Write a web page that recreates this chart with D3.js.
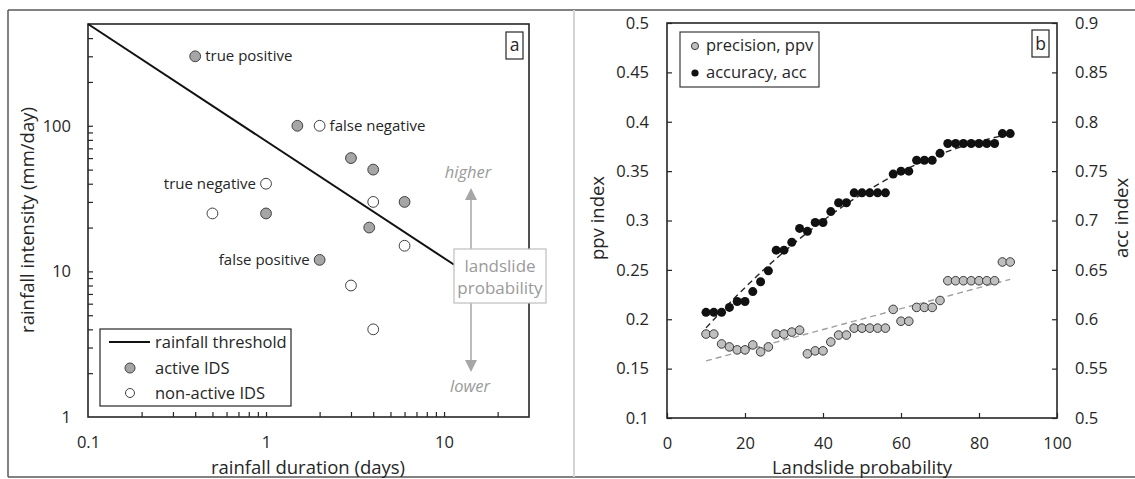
<!DOCTYPE html>
<html>
<head>
<meta charset="utf-8">
<script src="https://cdn.jsdelivr.net/npm/d3@7"></script>
<style>
  html, body { margin: 0; padding: 0; background: #fff; }
  svg { display: block; font-family: "Open Sans", "Noto Sans", sans-serif; }
</style>
</head>
<body>
<svg id="chart" width="1135" height="479"></svg>
<script>
// ---------- Panel a data ----------
const activeDuration   = [0.4, 1.5, 3, 4, 6, 1, 3.8, 2];
const activeIntensity  = [300, 100, 60, 50, 30, 25, 20, 12];
const inactiveDuration  = [2, 1, 0.5, 4, 6, 3, 4];
const inactiveIntensity = [100, 40, 25, 30, 15, 8, 4];
const thresholdDuration  = [0.1, 11.4];
const thresholdIntensity = [500, 11.1];
const annotText      = ["true positive", "false negative", "true negative", "false positive"];
const annotDuration  = [0.4, 2, 1, 2];
const annotIntensity = [300, 100, 40, 12];
const annotSide      = ["right", "right", "left", "left"];
const durTickLabels = [0.1, 1, 10];
const durMinorTicks = [0.2,0.3,0.4,0.5,0.6,0.7,0.8,0.9,1,2,3,4,5,6,7,8,9,10,20];
const intTickLabels = [1, 10, 100];
const intMinorTicks = [2,3,4,5,6,7,8,9,10,20,30,40,50,60,70,80,90,100,200,300,400];
const legendA = ["rainfall threshold", "active IDS", "non-active IDS"];

// ---------- Panel b data ----------
const probability = [10,12,14,16,18,20,22,24,26,28,30,32,34,36,38,40,42,44,46,48,
                     50,52,54,56,58,60,62,64,66,68,70,72,74,76,78,80,82,84,86,88];
const ppv = [0.185,0.185,0.175,0.172,0.169,0.169,0.174,0.167,0.172,0.185,
             0.185,0.187,0.189,0.165,0.168,0.168,0.177,0.184,0.184,0.191,
             0.191,0.191,0.191,0.191,0.210,0.198,0.198,0.212,0.212,0.212,
             0.219,0.239,0.239,0.239,0.239,0.239,0.239,0.239,0.258,0.258];
const acc = [0.607,0.607,0.607,0.612,0.618,0.618,0.628,0.638,0.649,0.670,
             0.670,0.678,0.692,0.689,0.698,0.698,0.709,0.718,0.718,0.728,
             0.728,0.728,0.728,0.728,0.747,0.750,0.750,0.761,0.761,0.761,
             0.768,0.778,0.778,0.778,0.778,0.778,0.778,0.778,0.788,0.788];
const probTicks = [0, 20, 40, 60, 80, 100];
const ppvTicks = [0.1,0.15,0.2,0.25,0.3,0.35,0.4,0.45,0.5];
const accTicks = [0.5,0.55,0.6,0.65,0.7,0.75,0.8,0.85,0.9];
const legendB = ["precision, ppv", "accuracy, acc"];

const svg = d3.select("#chart");
const TXT = "#262626";
const TICK_FS = 16.5, TITLE_FS = 18.5, LEG_FS = 16.5;

// ---------- Outer frame ----------
svg.append("rect").attr("x",0).attr("y",0).attr("width",1135).attr("height",479).attr("fill","#fff");
svg.append("line").attr("x1",8).attr("x2",1135).attr("y1",10).attr("y2",10).attr("stroke","#595959").attr("stroke-width",1.5);
svg.append("line").attr("x1",8).attr("x2",1135).attr("y1",477).attr("y2",477).attr("stroke","#595959").attr("stroke-width",1.5);
svg.append("line").attr("x1",8).attr("x2",8).attr("y1",10).attr("y2",477).attr("stroke","#595959").attr("stroke-width",1.5);
svg.append("line").attr("x1",574).attr("x2",574).attr("y1",10).attr("y2",477).attr("stroke","#d4d4d4").attr("stroke-width",2);

// ================= Panel a =================
const xA = d3.scaleLog().domain([0.1, 30]).range([88, 529]);
const yA = d3.scaleLog().domain([1, 500]).range([417, 24]);
const gA = svg.append("g");

function styleAxis(g, size) {
  g.select(".domain").remove();
  g.selectAll(".tick line").attr("stroke", "#262626").attr("stroke-width", 1.2);
  g.selectAll(".tick text").attr("fill", TXT).attr("font-size", size)
    .attr("font-family", '"Open Sans", "Noto Sans", sans-serif');
}

// minor/major ticks (inward)
gA.append("g").attr("transform","translate(0,417)")
  .call(d3.axisBottom(xA).tickValues(durMinorTicks).tickSize(-5).tickFormat(""))
  .call(g => styleAxis(g, TICK_FS));
gA.append("g").attr("transform","translate(88,0)")
  .call(d3.axisLeft(yA).tickValues(intMinorTicks).tickSize(-5).tickFormat(""))
  .call(g => styleAxis(g, TICK_FS));
// labels
gA.append("g").attr("transform","translate(0,417)")
  .call(d3.axisBottom(xA).tickValues(durTickLabels).tickSize(0).tickPadding(19).tickFormat(d3.format("")))
  .call(g => styleAxis(g, TICK_FS));
gA.append("g").attr("transform","translate(88,0)")
  .call(d3.axisLeft(yA).tickValues(intTickLabels).tickSize(0).tickPadding(17).tickFormat(d3.format("")))
  .call(g => styleAxis(g, TICK_FS));

// plot border
gA.append("rect").attr("x",88).attr("y",24).attr("width",529-88).attr("height",417-24)
  .attr("fill","none").attr("stroke","#262626").attr("stroke-width",1.6);

// threshold line
gA.append("path")
  .datum(thresholdDuration.map((d,i)=>[d, thresholdIntensity[i]]))
  .attr("d", d3.line().x(d=>xA(d[0])).y(d=>yA(d[1])))
  .attr("fill","none").attr("stroke","#111").attr("stroke-width",2);

// points
gA.selectAll("circle.act").data(activeDuration.map((d,i)=>[d, activeIntensity[i]])).join("circle")
  .attr("cx",d=>xA(d[0])).attr("cy",d=>yA(d[1])).attr("r",5.4)
  .attr("fill","#a6a6a6").attr("stroke","#404040").attr("stroke-width",1);
gA.selectAll("circle.inact").data(inactiveDuration.map((d,i)=>[d, inactiveIntensity[i]])).join("circle")
  .attr("cx",d=>xA(d[0])).attr("cy",d=>yA(d[1])).attr("r",5.4)
  .attr("fill","#fff").attr("stroke","#404040").attr("stroke-width",1);

// annotations
annotText.forEach((t,i)=>{
  const right = annotSide[i] === "right";
  gA.append("text").text(t)
    .attr("x", xA(annotDuration[i]) + (right ? 10 : -10))
    .attr("y", yA(annotIntensity[i]) + 5)
    .attr("text-anchor", right ? "start" : "end")
    .attr("font-size", 15).attr("fill", TXT);
});

// "landslide probability" box with arrows
const GRAY = "#a6a6a6";
gA.append("line").attr("x1",471).attr("x2",471).attr("y1",249).attr("y2",199).attr("stroke",GRAY).attr("stroke-width",1.5);
gA.append("path").attr("d","M471,188 L465,200 L477,200 Z").attr("fill",GRAY);
gA.append("line").attr("x1",471).attr("x2",471).attr("y1",303).attr("y2",361).attr("stroke",GRAY).attr("stroke-width",1.5);
gA.append("path").attr("d","M471,372 L465,360 L477,360 Z").attr("fill",GRAY);
gA.append("rect").attr("x",454).attr("y",249).attr("width",92).attr("height",54)
  .attr("fill","#fff").attr("stroke","#bfbfbf").attr("stroke-width",1.2);
gA.append("text").text("landslide").attr("x",500).attr("y",272).attr("text-anchor","middle").attr("font-size",17).attr("fill","#9a9a9a");
gA.append("text").text("probability").attr("x",500).attr("y",294).attr("text-anchor","middle").attr("font-size",17).attr("fill","#9a9a9a");
gA.append("text").text("higher").attr("x",468).attr("y",178).attr("text-anchor","middle").attr("font-size",16.5).attr("font-style","italic").attr("fill","#9a9a9a");
gA.append("text").text("lower").attr("x",470).attr("y",392).attr("text-anchor","middle").attr("font-size",16.5).attr("font-style","italic").attr("fill","#9a9a9a");

// "a" label box
gA.append("rect").attr("x",506).attr("y",32).attr("width",17).attr("height",27).attr("fill","#fff").attr("stroke","#262626").attr("stroke-width",1.2);
gA.append("text").text("a").attr("x",514.5).attr("y",51).attr("text-anchor","middle").attr("font-size",17.5).attr("fill",TXT);

// legend
const lgA = gA.append("g");
lgA.append("rect").attr("x",100).attr("y",329).attr("width",191).attr("height",77)
  .attr("fill","#fff").attr("stroke","#262626").attr("stroke-width",1.2);
lgA.append("line").attr("x1",109).attr("x2",150).attr("y1",342).attr("y2",342).attr("stroke","#111").attr("stroke-width",2);
lgA.append("circle").attr("cx",130).attr("cy",368).attr("r",5).attr("fill","#a6a6a6").attr("stroke","#404040");
lgA.append("circle").attr("cx",130).attr("cy",393).attr("r",4.5).attr("fill","#fff").attr("stroke","#404040");
legendA.forEach((t,i)=>{
  lgA.append("text").text(t).attr("x",155).attr("y",348 + i*25.5).attr("font-size",LEG_FS).attr("fill",TXT);
});

// axis titles
gA.append("text").text("rainfall duration (days)").attr("x",308).attr("y",474)
  .attr("text-anchor","middle").attr("font-size",TITLE_FS).attr("fill",TXT);
gA.append("text").text("rainfall intensity (mm/day)")
  .attr("transform","translate(34,220) rotate(-90)")
  .attr("text-anchor","middle").attr("font-size",TITLE_FS).attr("fill",TXT);

// ================= Panel b =================
const xB = d3.scaleLinear().domain([0, 100]).range([667, 1057]);
const yP = d3.scaleLinear().domain([0.1, 0.5]).range([418, 23]);
const yC = d3.scaleLinear().domain([0.5, 0.9]).range([418, 23]);
const gB = svg.append("g");

gB.append("g").attr("transform","translate(0,418)")
  .call(d3.axisBottom(xB).tickValues(probTicks).tickSizeInner(-5).tickSizeOuter(0).tickPadding(19).tickFormat(d3.format("")))
  .call(g => styleAxis(g, TICK_FS));
gB.append("g").attr("transform","translate(667,0)")
  .call(d3.axisLeft(yP).tickValues(ppvTicks).tickSizeInner(-5).tickSizeOuter(0).tickPadding(18).tickFormat(d3.format("")))
  .call(g => styleAxis(g, TICK_FS));
gB.append("g").attr("transform","translate(1057,0)")
  .call(d3.axisRight(yC).tickValues(accTicks).tickSizeInner(-5).tickSizeOuter(0).tickPadding(18).tickFormat(d3.format("")))
  .call(g => styleAxis(g, TICK_FS));

gB.append("rect").attr("x",667).attr("y",23).attr("width",1057-667).attr("height",418-23)
  .attr("fill","none").attr("stroke","#262626").attr("stroke-width",1.6);

// trend lines (least-squares fits of the series, as the spreadsheet trendlines)
function polyFit(xs, ys, order) {
  const n = order + 1;
  const A = Array.from({length:n}, ()=>new Array(n+1).fill(0));
  for (let r=0; r<n; r++) {
    for (let c=0; c<n; c++) A[r][c] = d3.sum(xs, x=>Math.pow(x, r+c));
    A[r][n] = d3.sum(xs, (x,i)=>ys[i]*Math.pow(x, r));
  }
  for (let i=0;i<n;i++){
    let p=i; for(let k=i+1;k<n;k++) if(Math.abs(A[k][i])>Math.abs(A[p][i])) p=k;
    [A[i],A[p]]=[A[p],A[i]];
    for(let k=i+1;k<n;k++){ const f=A[k][i]/A[i][i]; for(let j=i;j<=n;j++) A[k][j]-=f*A[i][j]; }
  }
  const c=new Array(n).fill(0);
  for(let i=n-1;i>=0;i--){ let s=A[i][n]; for(let j=i+1;j<n;j++) s-=A[i][j]*c[j]; c[i]=s/A[i][i]; }
  return x => c.reduce((s,ci,k)=>s+ci*Math.pow(x,k),0);
}
const ppvFit = polyFit(probability, ppv, 1);
const accFit = polyFit(probability, acc, 2);
const xFitRange = d3.range(10, 88.01, 1);
gB.append("path").datum(xFitRange)
  .attr("d", d3.line().x(d=>xB(d)).y(d=>yP(ppvFit(d))))
  .attr("fill","none").attr("stroke","#a0a0a0").attr("stroke-width",1.4).attr("stroke-dasharray","6,4");
gB.append("path").datum(xFitRange)
  .attr("d", d3.line().x(d=>xB(d)).y(d=>yC(accFit(d))))
  .attr("fill","none").attr("stroke","#262626").attr("stroke-width",1.4).attr("stroke-dasharray","6,4");

// points
gB.selectAll("circle.ppv").data(probability.map((p,i)=>[p, ppv[i]])).join("circle")
  .attr("cx",d=>xB(d[0])).attr("cy",d=>yP(d[1])).attr("r",4.3)
  .attr("fill","#bfbfbf").attr("stroke","#3a3a3a").attr("stroke-width",1);
svg.append("g").selectAll("circle").data(probability.map((p,i)=>[p, acc[i]])).join("circle")
  .attr("cx",d=>xB(d[0])).attr("cy",d=>yC(d[1])).attr("r",4.5)
  .attr("fill","#111");

// "b" label box
gB.append("rect").attr("x",1032).attr("y",30).attr("width",17).attr("height",27).attr("fill","#fff").attr("stroke","#262626").attr("stroke-width",1.2);
gB.append("text").text("b").attr("x",1040.5).attr("y",50).attr("text-anchor","middle").attr("font-size",17.5).attr("fill",TXT);

// legend
const lgB = gB.append("g");
lgB.append("rect").attr("x",680).attr("y",32).attr("width",139).attr("height",55)
  .attr("fill","#fff").attr("stroke","#3a3a3a").attr("stroke-width",1.2);
lgB.append("circle").attr("cx",695).attr("cy",46).attr("r",3.6).attr("fill","#bfbfbf").attr("stroke","#3a3a3a");
lgB.append("circle").attr("cx",695).attr("cy",73).attr("r",3.6).attr("fill","#111");
legendB.forEach((t,i)=>{
  lgB.append("text").text(t).attr("x",706).attr("y",51 + i*27).attr("font-size",LEG_FS).attr("fill",TXT);
});

// axis titles
gB.append("text").text("Landslide probability").attr("x",862).attr("y",474)
  .attr("text-anchor","middle").attr("font-size",TITLE_FS).attr("fill",TXT);
gB.append("text").text("ppv index")
  .attr("transform","translate(604,218) rotate(-90)")
  .attr("text-anchor","middle").attr("font-size",TITLE_FS).attr("fill",TXT);
gB.append("text").text("acc index")
  .attr("transform","translate(1128,218) rotate(-90)")
  .attr("text-anchor","middle").attr("font-size",TITLE_FS).attr("fill",TXT);
</script>
</body>
</html>
